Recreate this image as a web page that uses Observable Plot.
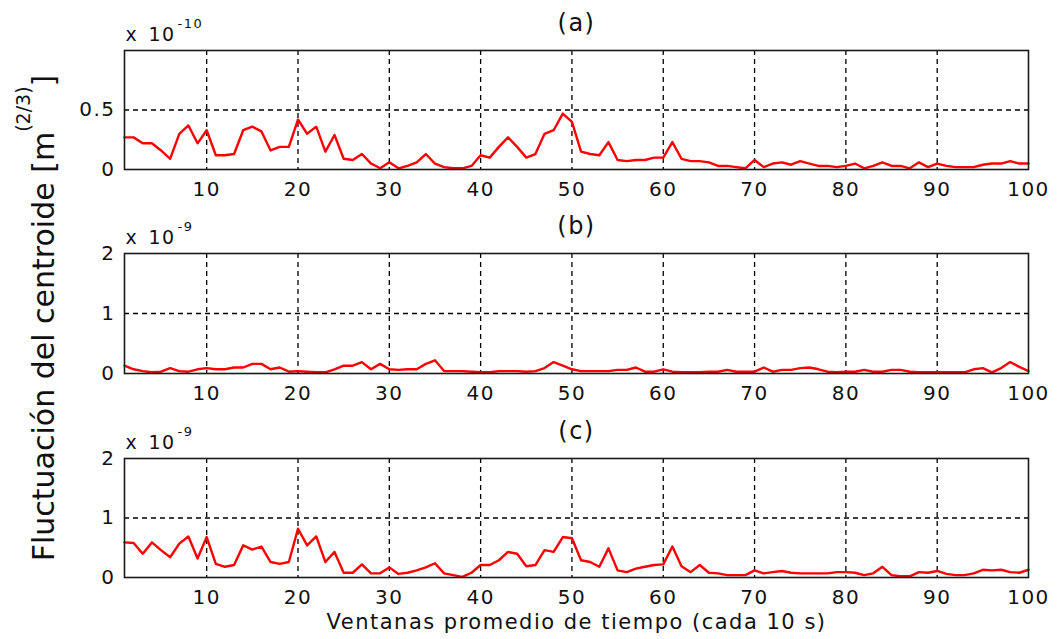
<!DOCTYPE html>
<html>
<head>
<meta charset="utf-8">
<script src="https://cdn.jsdelivr.net/npm/d3@7"></script>
<script src="https://cdn.jsdelivr.net/npm/@observablehq/plot@0.6"></script>
<style>
  body { margin: 0; background: #fff; }
  #wrap { position: relative; width: 1057px; height: 639px; background: #fff; overflow: hidden; }
  #wrap svg { position: absolute; left: 0; }
</style>
</head>
<body>
<div id="wrap"></div>
<script>
// ---- data ----
const windows = d3.range(1, 101);
const xTicks = [10, 20, 30, 40, 50, 60, 70, 80, 90, 100];
const xGrid = [10, 20, 30, 40, 50, 60, 70, 80, 90];

const panelA = [
  0.27,0.27,0.22,0.22,0.16,0.09,0.30,0.37,0.22,0.33,
  0.12,0.12,0.13,0.33,0.36,0.32,0.16,0.19,0.19,0.42,
  0.30,0.36,0.15,0.29,0.09,0.08,0.13,0.05,0.01,0.06,
  0.01,0.03,0.06,0.13,0.05,0.02,0.01,0.01,0.03,0.12,
  0.10,0.19,0.27,0.19,0.10,0.13,0.30,0.33,0.47,0.40,
  0.15,0.13,0.12,0.23,0.08,0.07,0.08,0.08,0.10,0.10,
  0.23,0.09,0.07,0.07,0.06,0.03,0.03,0.02,0.01,0.08,
  0.02,0.05,0.06,0.04,0.07,0.05,0.03,0.03,0.02,0.03,
  0.05,0.01,0.03,0.06,0.03,0.03,0.01,0.06,0.02,0.05,
  0.03,0.02,0.02,0.02,0.04,0.05,0.05,0.07,0.05,0.05
];
const panelB = [
  0.13,0.07,0.04,0.02,0.03,0.09,0.04,0.03,0.07,0.09,
  0.07,0.07,0.10,0.10,0.16,0.16,0.07,0.10,0.03,0.04,
  0.03,0.02,0.02,0.07,0.13,0.13,0.19,0.07,0.16,0.07,
  0.06,0.07,0.07,0.16,0.22,0.04,0.04,0.04,0.03,0.02,
  0.02,0.04,0.04,0.04,0.03,0.04,0.09,0.19,0.13,0.07,
  0.04,0.04,0.04,0.04,0.06,0.06,0.10,0.03,0.03,0.07,
  0.03,0.02,0.02,0.02,0.03,0.03,0.06,0.03,0.03,0.03,
  0.10,0.03,0.06,0.06,0.09,0.10,0.07,0.03,0.02,0.03,
  0.03,0.06,0.03,0.03,0.06,0.06,0.03,0.02,0.02,0.02,
  0.02,0.02,0.02,0.07,0.09,0.02,0.09,0.19,0.11,0.04
];
const panelC = [
  0.59,0.58,0.40,0.59,0.46,0.34,0.57,0.69,0.32,0.68,
  0.23,0.18,0.21,0.54,0.47,0.52,0.26,0.23,0.26,0.82,
  0.54,0.69,0.26,0.43,0.08,0.08,0.22,0.07,0.07,0.17,
  0.06,0.08,0.12,0.17,0.24,0.07,0.04,0.01,0.08,0.21,
  0.21,0.29,0.43,0.40,0.19,0.21,0.46,0.43,0.68,0.66,
  0.29,0.26,0.18,0.49,0.12,0.09,0.15,0.18,0.21,0.22,
  0.52,0.19,0.09,0.21,0.08,0.07,0.04,0.04,0.04,0.12,
  0.07,0.09,0.11,0.08,0.07,0.07,0.07,0.07,0.09,0.09,
  0.08,0.04,0.07,0.18,0.04,0.02,0.02,0.09,0.08,0.11,
  0.06,0.04,0.04,0.07,0.13,0.12,0.13,0.09,0.08,0.13
];

const titles = ["(a)", "(b)", "(c)"];
const exponents = ["-10", "-9", "-9"];
const yTicksA = [0, 0.5];
const yGridA = [0.5];
const yTicksBC = [0, 1, 2];
const yGridBC = [1];
const xLabel = "Ventanas promedio de tiempo (cada 10 s)";
const yLabelMain = "Fluctuación del centroide [m";
const yLabelSup = "(2/3)";
const yLabelEnd = "]";

// ---- drawing ----
const wrap = document.getElementById("wrap");
const fmt = d3.format("~g");

function panel(values, {title, exponent, yDomain, yTicks, yGrid, top, height, marginBottom, withXLabel}) {
  const data = windows.map((w, i) => ({x: w, y: values[i]}));
  const marks = [
    Plot.ruleX(xGrid, {x: d => d, stroke: "#000", strokeWidth: 1.3, strokeDasharray: "5,4"}),
    Plot.ruleY(yGrid, {y: d => d, stroke: "#000", strokeWidth: 1.3, strokeDasharray: "5,4"}),
    Plot.line(data, {x: "x", y: "y", stroke: "#ff0000", strokeWidth: 2.4}),
    Plot.frame({stroke: "#1a1a1a", strokeWidth: 1.6}),
    Plot.text([title], {frameAnchor: "top", lineAnchor: "middle", dy: -27, fontSize: 24, fill: "#111"}),
    Plot.text(["x"], {frameAnchor: "top-left", textAnchor: "start", lineAnchor: "bottom", dx: 1, dy: -10, fontSize: 19, fill: "#111"}),
    Plot.text(["10"], {frameAnchor: "top-left", textAnchor: "start", lineAnchor: "bottom", dx: 24, dy: -10, fontSize: 19, fill: "#111"}),
    Plot.text([exponent], {frameAnchor: "top-left", textAnchor: "start", lineAnchor: "bottom", dx: 53, dy: -23, fontSize: 13, fill: "#111"})
  ];
  if (withXLabel) {
    marks.push(Plot.text([xLabel], {frameAnchor: "bottom", lineAnchor: "bottom", dy: 51, fontSize: 21, fill: "#111"}));
  }
  const svg = Plot.plot({
    width: 1057,
    height,
    marginLeft: 124,
    marginRight: 29,
    marginTop: 50,
    marginBottom,
    style: {fontFamily: "DejaVu Sans", fontSize: "20px", color: "#111", background: "transparent", letterSpacing: "1.5px", overflow: "visible"},
    x: {domain: [1, 100], ticks: xTicks, tickSize: 0, tickPadding: 12, label: null},
    y: {domain: yDomain, ticks: yTicks, tickFormat: fmt, tickSize: 0, tickPadding: 9, label: null},
    marks
  });
  svg.style.top = top + "px";
  wrap.appendChild(svg);
}

panel(panelA, {title: titles[0], exponent: exponents[0], yDomain: [0, 1], yTicks: yTicksA, yGrid: yGridA, top: 0, height: 200, marginBottom: 31});
panel(panelB, {title: titles[1], exponent: exponents[1], yDomain: [0, 2], yTicks: yTicksBC, yGrid: yGridBC, top: 203, height: 200, marginBottom: 30});
panel(panelC, {title: titles[2], exponent: exponents[2], yDomain: [0, 2], yTicks: yTicksBC, yGrid: yGridBC, top: 408, height: 231, marginBottom: 62, withXLabel: true});

// y label spanning all panels
const overlay = d3.create("svg")
  .attr("width", 1057).attr("height", 639)
  .style("top", "0px").style("pointer-events", "none");
const t = overlay.append("text")
  .attr("transform", "translate(54,318) rotate(-90)")
  .attr("text-anchor", "middle")
  .attr("font-family", "DejaVu Sans")
  .attr("font-size", 30)
  .attr("fill", "#111");
t.append("tspan").text(yLabelMain);
t.append("tspan").attr("font-size", 19).attr("dy", -24).text(yLabelSup);
t.append("tspan").attr("dy", 24).text(yLabelEnd);
wrap.appendChild(overlay.node());
</script>
</body>
</html>
